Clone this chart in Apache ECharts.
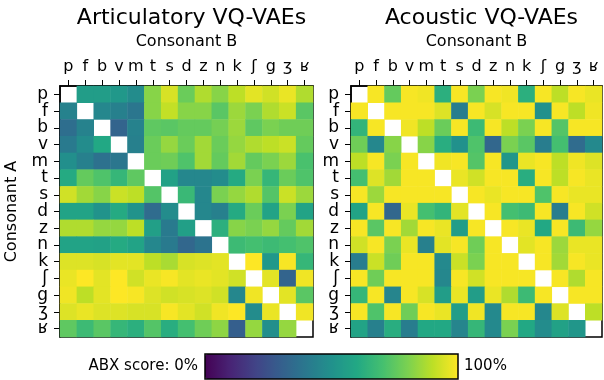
<!DOCTYPE html>
<html>
<head>
<meta charset="utf-8">
<script src="https://cdn.jsdelivr.net/npm/echarts@6/dist/echarts.min.js"></script>
<style>
  html, body { margin: 0; padding: 0; background: #fff; }
  #main { width: 604px; height: 380px; }
</style>
</head>
<body>
<div id="main"></div>
<script>
// consonants, same order on both axes
var consonants = ['p', 'f', 'b', 'v', 'm', 't', 's', 'd', 'z', 'n', 'k', 'ʃ', 'g', 'ʒ', 'ʁ'];

// ABX score (0..1), rows = Consonant A, cols = Consonant B, null on the diagonal
var articulatory = [
  [null, 0.55, 0.55, 0.53, 0.48, 0.82, 0.94, 0.77, 0.88, 0.82, 0.90, 0.96, 0.93, 0.97, 0.88],
  [0.44, null, 0.46, 0.43, 0.39, 0.82, 0.91, 0.82, 0.82, 0.74, 0.85, 0.80, 0.88, 0.92, 0.74],
  [0.36, 0.44, null, 0.32, 0.44, 0.75, 0.74, 0.76, 0.76, 0.79, 0.85, 0.75, 0.80, 0.78, 0.78],
  [0.41, 0.48, 0.60, null, 0.43, 0.77, 0.84, 0.77, 0.86, 0.77, 0.84, 0.88, 0.90, 0.92, 0.76],
  [0.49, 0.43, 0.37, 0.39, null, 0.77, 0.78, 0.72, 0.86, 0.76, 0.86, 0.76, 0.80, 0.85, 0.71],
  [0.61, 0.76, 0.72, 0.66, 0.75, null, 0.57, 0.46, 0.46, 0.48, 0.61, 0.80, 0.66, 0.77, 0.72],
  [0.93, 0.86, 0.82, 0.92, 0.90, 0.73, null, 0.67, 0.46, 0.80, 0.84, 0.88, 0.73, 0.92, 0.85],
  [0.58, 0.58, 0.51, 0.61, 0.51, 0.35, 0.48, null, 0.46, 0.43, 0.61, 0.77, 0.58, 0.80, 0.58],
  [0.88, 0.88, 0.84, 0.84, 0.90, 0.56, 0.41, 0.56, null, 0.63, 0.82, 0.80, 0.84, 0.76, 0.86],
  [0.58, 0.58, 0.57, 0.61, 0.58, 0.46, 0.41, 0.33, 0.38, null, 0.68, 0.70, 0.68, 0.70, 0.72],
  [0.95, 0.95, 0.94, 0.96, 0.96, 0.90, 0.87, 0.94, 0.95, 0.96, null, 1.00, 0.53, 0.99, 0.66],
  [0.97, 1.00, 0.96, 1.00, 0.93, 0.97, 0.99, 0.96, 0.97, 0.96, 0.93, null, 0.96, 0.32, 0.98],
  [0.98, 0.90, 0.96, 1.00, 0.99, 0.95, 0.93, 0.94, 0.95, 0.93, 0.46, 0.98, null, 0.96, 0.74],
  [0.95, 0.97, 0.95, 0.95, 0.94, 0.94, 0.99, 0.96, 0.93, 0.98, 1.00, 0.48, 0.97, null, 0.98],
  [0.75, 0.68, 0.74, 0.66, 0.63, 0.73, 0.62, 0.70, 0.78, 0.83, 0.30, 0.84, 0.49, 0.84, null]
];

var acoustic = [
  [null, 0.99, 0.76, 0.99, 0.98, 0.63, 0.99, 0.80, 0.99, 0.98, 0.63, 0.99, 0.90, 0.99, 0.97],
  [0.99, null, 0.99, 0.99, 0.99, 0.95, 0.42, 0.99, 0.94, 0.99, 0.99, 0.50, 0.99, 0.90, 0.98],
  [0.65, 0.99, null, 0.98, 0.90, 0.77, 0.99, 0.68, 0.99, 0.90, 0.80, 0.99, 0.73, 0.99, 0.99],
  [0.78, 0.46, 0.82, null, 0.82, 0.62, 0.50, 0.72, 0.33, 0.80, 0.74, 0.42, 0.70, 0.35, 0.47],
  [0.90, 0.99, 0.80, 0.99, null, 0.98, 0.99, 0.73, 0.99, 0.52, 0.97, 0.99, 0.90, 0.98, 0.95],
  [0.70, 0.95, 0.86, 0.99, 0.99, null, 0.97, 0.93, 0.99, 0.99, 0.62, 0.99, 0.90, 0.99, 0.97],
  [0.99, 0.85, 0.99, 0.99, 0.99, 0.99, null, 0.99, 0.97, 0.99, 0.99, 0.72, 0.99, 0.97, 0.97],
  [0.58, 0.99, 0.33, 0.97, 0.70, 0.65, 0.96, null, 0.99, 0.70, 0.68, 0.99, 0.42, 0.99, 0.93],
  [0.99, 0.74, 0.99, 0.86, 0.99, 0.97, 0.55, 0.99, null, 0.99, 0.97, 0.60, 0.99, 0.68, 0.84],
  [0.93, 0.99, 0.80, 0.97, 0.43, 0.96, 0.99, 0.78, 0.99, null, 0.96, 0.99, 0.85, 0.97, 0.97],
  [0.42, 0.92, 0.78, 0.99, 0.99, 0.47, 0.92, 0.80, 0.99, 0.99, null, 0.99, 0.86, 0.99, 0.97],
  [0.99, 0.78, 0.99, 0.99, 0.99, 0.46, 0.99, 0.93, 0.99, 0.99, 0.99, null, 0.99, 0.88, 0.99],
  [0.66, 0.99, 0.45, 0.99, 0.94, 0.55, 0.97, 0.55, 0.97, 0.88, 0.68, 0.99, null, 0.99, 0.99],
  [0.99, 0.72, 0.99, 0.78, 0.99, 0.97, 0.55, 0.98, 0.47, 0.99, 0.99, 0.46, 0.95, null, 0.90],
  [0.58, 0.43, 0.62, 0.42, 0.60, 0.60, 0.45, 0.66, 0.47, 0.80, 0.60, 0.48, 0.57, 0.52, null]
];

var titles = ['Articulatory VQ-VAEs', 'Acoustic VQ-VAEs'];

var viridis = ['#440154', '#482475', '#414487', '#355f8d', '#2a788e', '#21918c',
               '#22a884', '#44bf70', '#7ad151', '#bddf26', '#fde725'];

function toCells(matrix) {
  var out = [];
  matrix.forEach(function (row, i) {
    row.forEach(function (v, j) {
      if (v !== null) out.push([j, i, v]);
    });
  });
  return out;
}

var font = 'DejaVu Sans';
var grids = [
  { left: 60, top: 86, width: 253, height: 251 },
  { left: 351, top: 86, width: 251, height: 251 }
];

function xAxisFor(idx) {
  return {
    type: 'category', gridIndex: idx, data: consonants, position: 'top',
    name: 'Consonant B', nameLocation: 'middle', nameGap: 36,
    nameTextStyle: { fontFamily: font, fontSize: 16, color: '#000' },
    axisLine: { show: true, lineStyle: { color: '#000', width: 1.5 } },
    axisTick: { show: true, alignWithLabel: true, length: 6, lineStyle: { color: '#000', width: 1 } },
    axisLabel: { fontFamily: font, fontSize: 16, color: '#000', margin: 11, interval: 0 },
    splitLine: { show: false }
  };
}

function yAxisFor(idx) {
  return {
    type: 'category', gridIndex: idx, data: consonants, inverse: true,
    name: idx === 0 ? 'Consonant A' : '', nameLocation: 'middle', nameGap: 40,
    nameTextStyle: { fontFamily: font, fontSize: 16, color: '#000' },
    axisLine: { show: true, lineStyle: { color: '#000', width: 1.5 } },
    axisTick: { show: true, alignWithLabel: true, length: 6, lineStyle: { color: '#000', width: 1 } },
    axisLabel: { fontFamily: font, fontSize: 17, color: '#000', margin: 12, interval: 0 },
    splitLine: { show: false }
  };
}

var chart = echarts.init(document.getElementById('main'));
chart.setOption({
  backgroundColor: '#fff',
  animation: false,
  title: titles.map(function (t, i) {
    return {
      text: t, left: grids[i].left + grids[i].width / 2, top: 2, textAlign: 'center',
      textStyle: { fontFamily: font, fontSize: 22, fontWeight: 'normal', color: '#000' }
    };
  }),
  grid: grids.map(function (g) {
    return { left: g.left, top: g.top, width: g.width, height: g.height,
             show: true, borderColor: '#000', borderWidth: 1.5, backgroundColor: '#fff' };
  }),
  xAxis: [xAxisFor(0), xAxisFor(1)],
  yAxis: [yAxisFor(0), yAxisFor(1)],
  visualMap: {
    type: 'continuous', min: 0, max: 1, seriesIndex: [0, 1],
    orient: 'horizontal', left: 205, top: 354, itemWidth: 25, itemHeight: 253,
    padding: 0, calculable: false, showLabel: false, text: null, hoverLink: false,
    inRange: { color: viridis }
  },
  series: [
    { type: 'heatmap', xAxisIndex: 0, yAxisIndex: 0, data: toCells(articulatory), emphasis: { disabled: true } },
    { type: 'heatmap', xAxisIndex: 1, yAxisIndex: 1, data: toCells(acoustic), emphasis: { disabled: true } }
  ],
  graphic: [
    { type: 'rect', shape: { x: 205, y: 354, width: 253, height: 25 }, z: 100,
      style: { fill: 'none', stroke: '#000', lineWidth: 1.5 } },
    { type: 'text', x: 198, y: 366, z: 100,
      style: { text: 'ABX score: 0%', font: '15px "DejaVu Sans"', fill: '#000', align: 'right', verticalAlign: 'middle' } },
    { type: 'text', x: 464, y: 366, z: 100,
      style: { text: '100%', font: '15px "DejaVu Sans"', fill: '#000', align: 'left', verticalAlign: 'middle' } }
  ]
});
</script>
</body>
</html>
